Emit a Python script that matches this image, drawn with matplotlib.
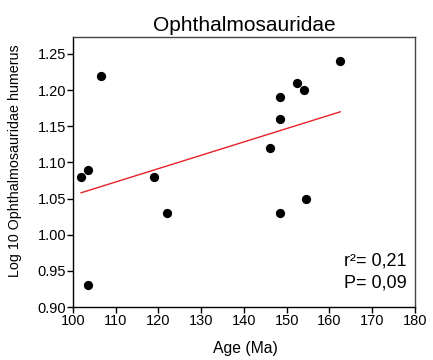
import matplotlib
matplotlib.use("Agg")
import matplotlib.pyplot as plt

age = [101.9, 103.5, 106.5, 119.0, 103.5, 122.0, 146.0, 148.5, 148.5, 152.5, 154.0, 162.5, 148.5, 154.5]
humerus = [1.08, 1.09, 1.22, 1.08, 0.93, 1.03, 1.12, 1.16, 1.19, 1.21, 1.20, 1.24, 1.03, 1.05]
fit_x = [101.9, 162.5]
fit_y = [1.058, 1.170]
xticks = [100, 110, 120, 130, 140, 150, 160, 170, 180]
yticks = [0.90, 0.95, 1.00, 1.05, 1.10, 1.15, 1.20, 1.25]

plt.rcParams['font.family'] = ['Liberation Sans', 'DejaVu Sans']
W, H = 433, 360
fig = plt.figure(figsize=(W/100, H/100), dpi=100)
ax = fig.add_axes([73/W, 1 - 307/H, (415-73)/W, (307-37)/H])
ax.scatter(age, humerus, s=32, color='black', zorder=3)
ax.plot(fit_x, fit_y, color='#e8202a', lw=1.0)
ax.set_xlim(100, 180)
ax.set_ylim(0.90, 1.2735)
ax.set_xticks(xticks)
ax.set_xticklabels([str(t) for t in xticks], fontsize=10.5)
ax.set_yticks(yticks)
ax.set_yticklabels([f"{t:.2f}" for t in yticks], fontsize=10.5)
ax.tick_params(direction='out', length=4, width=1, pad=1)
for s in ['top', 'right']:
    ax.spines[s].set_color('#444444')
for s in ax.spines.values():
    s.set_linewidth(1.0)
ax.set_title('Ophthalmosauridae', fontsize=15, pad=4)
fig.text(245/W, 1 - 348/H, 'Age (Ma)', fontsize=11.3, ha='center', va='center')
fig.text(15/W, 1 - 161/H, 'Log 10 Ophthalmosauridae humerus', fontsize=10.3,
         ha='center', va='center', rotation=90)
ax.text(0.975, 0.17, 'r²= 0,21', transform=ax.transAxes, ha='right', va='center', fontsize=13)
ax.text(0.975, 0.09, 'P= 0,09', transform=ax.transAxes, ha='right', va='center', fontsize=13)
fig.savefig('out.png', dpi=100)
